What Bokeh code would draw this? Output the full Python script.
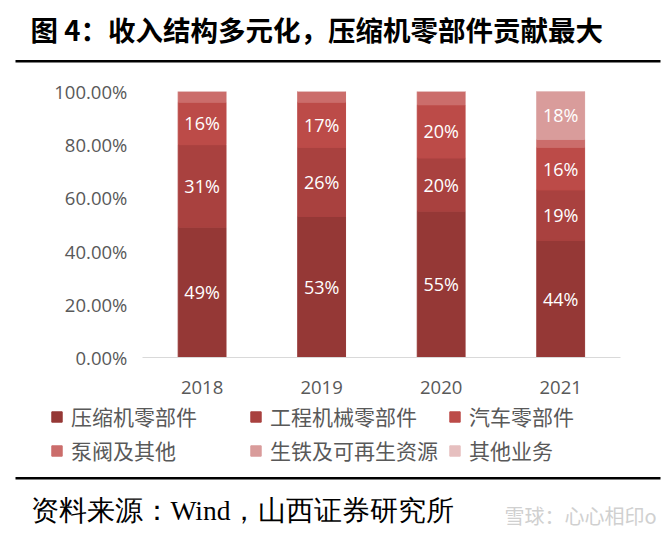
from bokeh.plotting import figure
from bokeh.models import (Range1d, LinearAxis, FixedTicker, NumeralTickFormatter, ColumnDataSource,
                          Label, Legend, LegendItem, BoxAnnotation)
from bokeh.core.properties import value
from bokeh.embed import file_html
from bokeh.resources import INLINE

# ---------------- data ----------------
years = ["2018", "2019", "2020", "2021"]
series = ["压缩机零部件", "工程机械零部件", "汽车零部件", "泵阀及其他", "生铁及可再生资源", "其他业务"]
compressor = [49, 53, 55, 44]
engineering = [31, 26, 20, 19]
automotive = [16, 17, 20, 16]
pump_valve = [4, 4, 5, 3]
pig_iron = [0, 0, 0, 18]
other = [0, 0, 0, 0]
y_ticks = [0, 0.2, 0.4, 0.6, 0.8, 1.0]
title_text = "图 4：收入结构多元化，压缩机零部件贡献最大"
source_text = "资料来源：Wind，山西证券研究所"
watermark_text = "雪球：心心相印o"

colors = ["#953836", "#A9413F", "#BC4B48", "#CB6D6B", "#D99C9B", "#E6BFBF"]

W, H = 672, 536
p = figure(width=W, height=H, output_backend="svg", toolbar_location=None,
           x_axis_type=None, y_axis_type=None,
           x_range=Range1d(-0.6866, 4.9354), y_range=Range1d(-0.6729, 1.3421),
           min_border=0, min_border_left=0, min_border_right=0, min_border_top=0, min_border_bottom=0,
           outline_line_color=None, background_fill_color="white", border_fill_color="white")
p.xgrid.visible = False
p.ygrid.visible = False

xs = list(range(1, len(years) + 1))
all_vals = [compressor, engineering, automotive, pump_valve, pig_iron, other]
keys = [f"s{i}" for i in range(len(series))]
data = {"x": xs}
for k, vals in zip(keys, all_vals):
    data[k] = [v / 100 for v in vals]
src = ColumnDataSource(data)

renderers = p.vbar_stack(keys, x="x", width=0.4, color=colors, source=src)

# data labels
lx, ly, lt = [], [], []
for j in range(len(years)):
    base = 0
    for vals in all_vals:
        v = vals[j]
        if v >= 10:
            lx.append(xs[j])
            ly.append((base + v / 2) / 100)
            lt.append(f"{v}%")
        base += v
p.text(x=lx, y=ly, text=lt, text_align="center", text_baseline="middle",
       text_color="white", text_font=value("Open Sans"), text_font_size="18px")

# axes
yaxis = LinearAxis(fixed_location=0.5, ticker=FixedTicker(ticks=y_ticks),
                   formatter=NumeralTickFormatter(format="0.00%"),
                   axis_line_color=None, major_tick_line_color=None, minor_tick_line_color=None,
                   major_tick_out=0, major_tick_in=0, minor_tick_out=0, minor_tick_in=0,
                   major_label_standoff=15, major_label_text_font="Open Sans",
                   major_label_text_font_size="18.5px", major_label_text_color="#595959")
p.add_layout(yaxis, "left")

xaxis = LinearAxis(fixed_location=0, ticker=FixedTicker(ticks=xs),
                   major_label_overrides={x: y for x, y in zip(xs, years)},
                   bounds=(0.5, len(years) + 0.5),
                   axis_line_color="#d9d9d9", axis_line_width=1,
                   major_tick_line_color=None, minor_tick_line_color=None,
                   major_tick_out=0, major_tick_in=0, minor_tick_out=0, minor_tick_in=0,
                   major_label_standoff=23, major_label_text_font="Open Sans",
                   major_label_text_font_size="18.5px", major_label_text_color="#595959")
p.add_layout(xaxis, "below")

# legend
items = [LegendItem(label=s, renderers=[r]) for s, r in zip(series, renderers)]
legend = Legend(items=items, ncols=3, orientation="horizontal", location=(50, 71),
                border_line_color=None, background_fill_alpha=0, padding=0, margin=0,
                glyph_width=13, glyph_height=13, label_standoff=8, spacing=4, label_width=174,
                label_text_font="Noto Sans CJK SC", label_text_font_size="21px",
                label_text_color="#595959")
p.add_layout(legend)

# title, rules, source
p.add_layout(Label(x=30, y=H - 28, x_units="screen", y_units="screen", text=title_text,
                   text_font="Noto Sans CJK SC", text_font_style="bold", text_font_size="27.5px",
                   text_baseline="middle", text_color="black"))
p.add_layout(BoxAnnotation(left=15, right=660, bottom=H - 62, top=H - 59.5,
                           left_units="screen", right_units="screen", bottom_units="screen", top_units="screen",
                           fill_color="black", fill_alpha=1, line_color=None))
p.add_layout(BoxAnnotation(left=15, right=660, bottom=H - 479, top=H - 476.5,
                           left_units="screen", right_units="screen", bottom_units="screen", top_units="screen",
                           fill_color="black", fill_alpha=1, line_color=None))
p.add_layout(Label(x=30, y=H - 510, x_units="screen", y_units="screen", text=source_text,
                   text_font="Liberation Serif", text_font_size="27.5px",
                   text_baseline="middle", text_color="black"))
p.add_layout(Label(x=504, y=H - 515, x_units="screen", y_units="screen", text=watermark_text,
                   text_font="Noto Sans CJK SC", text_font_size="20px",
                   text_baseline="middle", text_color="#d0d0d0"))

open("out.html", "w").write(file_html(p, INLINE))
